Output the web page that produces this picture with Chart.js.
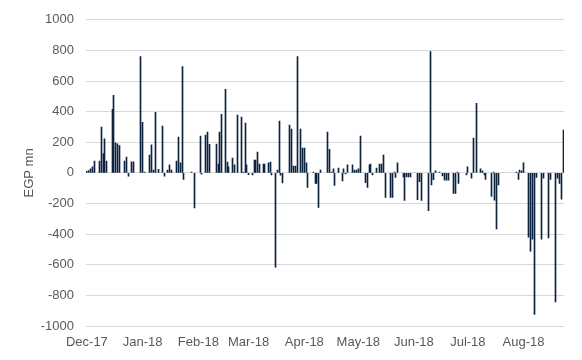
<!DOCTYPE html>
<html><head><meta charset="utf-8">
<script src="https://cdn.jsdelivr.net/npm/chart.js@4/dist/chart.umd.min.js"></script>
<style>html,body{margin:0;padding:0;background:#fff}#wrap{width:582px;height:360px}</style>
</head><body><div id="wrap"><canvas id="c" width="582" height="360"></canvas></div>
<script>
// Day offsets (calendar days from 1 Dec 2017) and daily net flows, EGP mn
const dayIndex = [0,1,2,3,4,7,8,9,10,11,14,15,16,17,18,21,22,23,25,26,30,31,32,35,36,37,38,40,42,43,45,46,47,50,51,52,53,54,58,60,63,64,66,67,68,72,73,74,75,77,78,79,81,82,84,86,87,88,89,90,92,93,94,95,96,98,99,101,102,103,105,106,107,108,109,113,114,115,116,117,119,120,121,122,123,126,127,128,129,130,134,135,136,137,138,140,142,143,144,145,148,149,150,151,152,155,156,157,158,159,161,163,164,165,166,169,170,171,172,173,176,177,178,179,180,184,185,186,190,191,192,193,194,196,198,199,200,201,204,205,206,207,211,212,214,215,217,219,220,221,222,225,226,227,228,229,239,240,241,242,243,246,247,248,249,250,253,254,257,258,261,262,263,264,265];
const flows = [11,15,26,39,78,78,299,126,223,78,416,506,197,190,178,78,104,-22,72,72,760,331,6,117,184,19,396,24,305,-22,19,52,19,78,234,65,695,-43,6,-229,240,-8,247,266,186,188,58,266,383,546,71,39,97,52,377,364,6,325,52,-11,-13,84,84,136,58,58,58,65,71,-13,-615,19,338,-15,-65,312,286,45,45,760,286,162,162,65,-95,6,-69,-69,-225,19,266,154,6,26,-82,32,-52,26,-6,52,52,19,19,26,240,-63,-95,52,58,-13,32,58,58,117,-160,-160,-160,6,-30,65,-26,-180,-26,-26,-26,-175,-58,-180,-247,792,-78,-45,13,6,-19,-47,-47,-47,-134,-134,6,-69,-13,39,-34,227,455,26,13,-13,-43,-154,6,-178,-366,-78,6,-43,19,13,65,-420,-511,-433,-924,-30,-433,-35,-424,-43,-842,-34,-69,-171,279];
const monthLabels = ["Dec-17","Jan-18","Feb-18","Mar-18","Apr-18","May-18","Jun-18","Jul-18","Aug-18"];
const monthStartDay = [0,31,62,90,121,151,182,212,243];
const totalDays = 266;

const FONT = {family: "'Liberation Sans', Arial, sans-serif", size: 13};
const TXT = '#595959';

// Snap the library-computed bar centres to pixel centres so 1px bars stay crisp
const snapBars = {
  id: 'snapBars',
  beforeDatasetsDraw(chart) {
    chart.getDatasetMeta(0).data.forEach(el => { el.x = Math.floor(el.x) + 0.5; });
  }
};

new Chart(document.getElementById('c').getContext('2d'), {
  type: 'bar',
  plugins: [snapBars],
  data: {
    datasets: [{
      data: dayIndex.map((d, i) => ({x: d, y: flows[i]})),
      backgroundColor: '#0c2340',
      borderWidth: 0,
      barThickness: 1,
      maxBarThickness: 1
    }]
  },
  options: {
    responsive: false,
    animation: false,
    events: [],
    plugins: {legend: {display: false}, tooltip: {enabled: false}},
    layout: {padding: {left: 22, right: 18, top: 18, bottom: 0}},
    scales: {
      x: {
        type: 'linear',
        offset: false,
        min: -0.5,
        max: totalDays - 0.5,
        grid: {display: false, drawTicks: false, offset: false},
        border: {display: false},
        afterBuildTicks: (s) => { s.ticks = monthStartDay.map(v => ({value: v})); },
        ticks: {
          autoSkip: false, maxRotation: 0, minRotation: 0, padding: 9,
          color: TXT, font: FONT,
          callback: (v) => { const k = monthStartDay.indexOf(v); return k >= 0 ? monthLabels[k] : ''; }
        },
        afterFit: (s) => { s.height = 34; }
      },
      y: {
        min: -1000, max: 1000,
        ticks: {stepSize: 200, padding: 12, color: TXT, font: FONT, callback: (v) => String(v)},
        grid: {color: '#d9d9d9', lineWidth: 1, drawTicks: false},
        border: {display: false},
        title: {display: true, text: 'EGP mn', color: TXT, font: FONT, padding: 0},
        afterFit: (s) => { s.width = 64; }
      }
    }
  }
});
</script>
</body></html>
